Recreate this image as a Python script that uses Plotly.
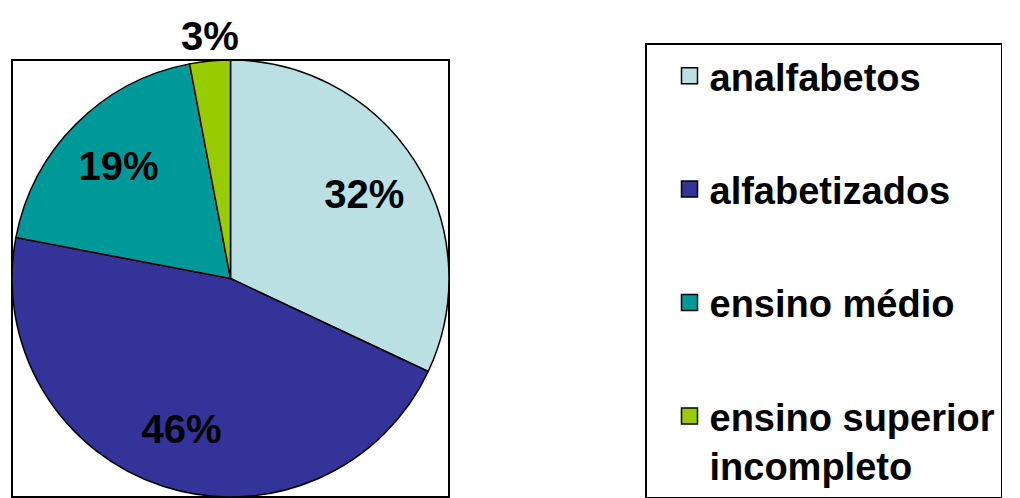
import math
import plotly.graph_objects as go

# ---- data ----
categories = ["analfabetos", "alfabetizados", "ensino médio", "ensino superior incompleto"]
shares = [32, 46, 19, 3]
legend_labels = ["analfabetos", "alfabetizados", "ensino médio", "ensino superior<br>incompleto"]
colors = ["#BBE0E3", "#333399", "#009999", "#99CC00"]
inside_labels = [True, True, True, False]

FONT = "Liberation Sans, Arial, sans-serif"
W, H = 1020, 498
PIE_X = [12 / W, 449 / W]
PIE_Y = [1 - 497 / H, 1 - 60 / H]
label_font = dict(family=FONT, size=40, color="black", weight="bold")

fig = go.Figure()
# the pie itself
fig.add_trace(go.Pie(
    labels=categories, values=shares, sort=False, direction="clockwise", rotation=0,
    marker=dict(colors=colors, line=dict(color="black", width=1.5)),
    textinfo="none", domain=dict(x=PIE_X, y=PIE_Y),
    showlegend=False, hoverinfo="label+percent",
))
# transparent ring carrying the inside percentage labels (places them at ~0.72 r)
fig.add_trace(go.Pie(
    labels=categories, values=shares, sort=False, direction="clockwise", rotation=0,
    hole=0.45,
    marker=dict(colors=["rgba(0,0,0,0)"] * len(shares), line=dict(width=0)),
    texttemplate=["%{percent:.0%}" if s else "" for s in inside_labels],
    textposition=["inside" if s else "none" for s in inside_labels],
    insidetextorientation="horizontal", textfont=label_font,
    domain=dict(x=PIE_X, y=PIE_Y), showlegend=False, hoverinfo="skip",
))
# small slice: label placed outside, above the slice (derived from the data)
total = sum(shares)
cum = 0
for s, inside in zip(shares, inside_labels):
    mid = 2 * math.pi * (cum + s / 2) / total
    cum += s
    if inside:
        continue
    cx = (PIE_X[0] + PIE_X[1]) / 2
    cy = (PIE_Y[0] + PIE_Y[1]) / 2
    rx = (PIE_X[1] - PIE_X[0]) / 2
    ry = (PIE_Y[1] - PIE_Y[0]) / 2
    fig.add_annotation(
        x=cx + rx * math.sin(mid), y=cy + ry * math.cos(mid),
        xref="paper", yref="paper", xanchor="center", yanchor="bottom",
        text=f"{round(100 * s / total)}%", showarrow=False, font=label_font, yshift=1,
    )

for i, (lab, col) in enumerate(zip(legend_labels, colors)):
    fig.add_trace(go.Scatter(
        x=[None], y=[None], mode="markers", name=lab, legendgroup=f"g{i}",
        marker=dict(symbol="square", size=16, color=col, line=dict(color="black", width=1.5)),
        hoverinfo="skip",
    ))

fig.add_shape(type="rect", xref="paper", yref="paper",
              x0=PIE_X[0], x1=PIE_X[1], y0=PIE_Y[0], y1=PIE_Y[1],
              line=dict(color="black", width=2), layer="below")

fig.update_layout(
    width=W, height=H,
    margin=dict(l=0, r=0, t=0, b=0),
    paper_bgcolor="white", plot_bgcolor="white",
    xaxis=dict(visible=False), yaxis=dict(visible=False),
    legend=dict(
        x=645 / W, xanchor="left", y=1 - 53 / H, yanchor="top",
        bordercolor="black", borderwidth=1.5, bgcolor="white",
        font=dict(family=FONT, size=38, color="black", weight="bold"),
        tracegroupgap=61, valign="top", indentation=23, itemsizing="trace",
    ),
)
fig.write_html("out.html", config={"displayModeBar": False},
               post_script="document.body.style.margin='0px';")
